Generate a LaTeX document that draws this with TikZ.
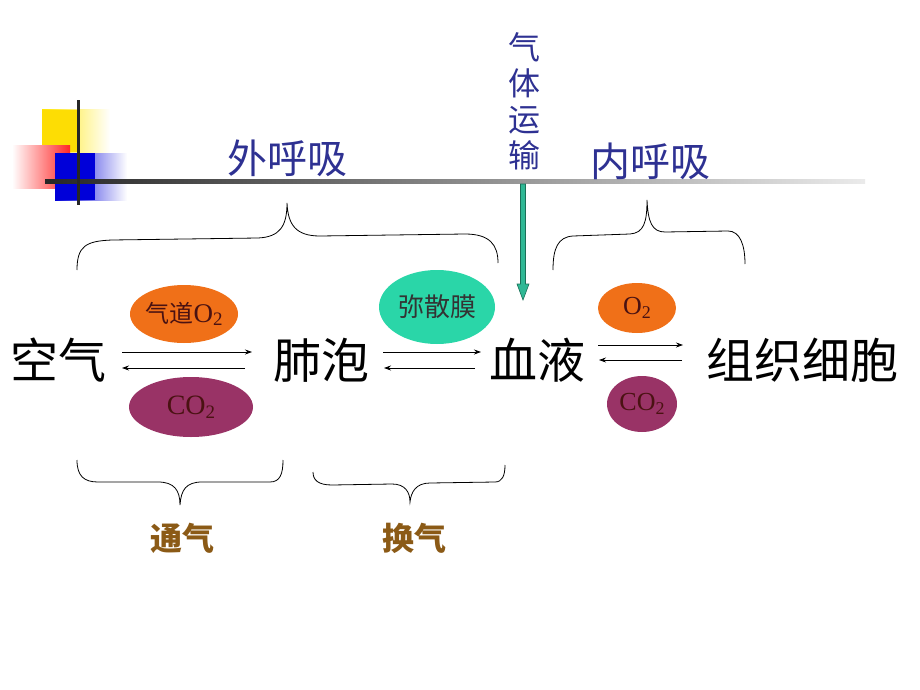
\documentclass[tikz,border=0pt]{standalone}
\usepackage{fontspec}
\setmainfont{Liberation Serif}
\newfontfamily\cjk{Noto Sans CJK SC}
\usetikzlibrary{arrows.meta,shapes.geometric}
\definecolor{navy}{HTML}{2E3192}
\definecolor{brownlab}{HTML}{8B5A16}
\definecolor{orng}{HTML}{F07018}
\definecolor{purp}{HTML}{993366}
\definecolor{teal2}{HTML}{2AD6A8}
\definecolor{arrowg}{HTML}{2FB895}
\definecolor{arrowd}{HTML}{1A7058}
\definecolor{inktext}{HTML}{4A1212}
\tikzset{
  maintext/.style={font=\cjk\fontsize{48}{50}\selectfont, inner sep=0pt, anchor=center},
  headtext/.style={font=\cjk\fontsize{40}{42}\selectfont, text=navy, inner sep=0pt},
  labtext/.style={font=\cjk\bfseries\fontsize{32}{34}\selectfont, text=brownlab, inner sep=0pt},
  bubble/.style={ellipse, draw=none},
  flow/.style={line width=0.8pt, -{Stealth[length=7pt,width=5pt]}},
  brace/.style={line width=0.8pt, black},
  bubtext/.style={text=inktext, inner sep=0pt}
}
\begin{document}
\begin{tikzpicture}[x=1pt,y=-1pt]
\useasboundingbox (0,0) rectangle (920,690);
% decorative block
\shade[left color=yellow!80!orange, right color=white] (42,110) rectangle (110,152);
\fill[yellow!80!orange] (42,110) rectangle (80,152);
\shade[left color=white, right color=red!85] (12,145) rectangle (70,188);
\shade[left color=blue!85!black, right color=white] (55,153) rectangle (127,200);
\fill[blue!85!black] (55,153) rectangle (95,200);
\shade[left color=black!85, right color=black!8] (45,179) rectangle (865,183);
\fill[black!85] (76.5,100) rectangle (79.5,205);
% headings
\node[headtext] (outer) at (287,158) {外呼吸};
\node[headtext] (inner) at (650,161) {内呼吸};
\node[font=\cjk\fontsize{32}{36}\selectfont, text=navy, inner sep=0pt, align=center] (trans) at (524,101) {气\\体\\运\\输};
% green arrow
\coordinate (gtop) at (523,184);
\coordinate (gtip) at (523,300);
\filldraw[fill=arrowg, draw=arrowd, line width=0.6pt]
  ([xshift=-2.5]gtop) -- ([xshift=-2.5,yshift=16]gtip) -- ([xshift=-6,yshift=16]gtip) -- (gtip)
  -- ([xshift=6,yshift=16]gtip) -- ([xshift=2.5,yshift=16]gtip) -- ([xshift=2.5]gtop) -- cycle;
% top braces
\draw[brace] (77,270) .. controls (77,246) and (86,241) .. (112,240) -- (258,238)
  .. controls (280,237) and (287,226) .. (287,203)
  .. controls (288,225) and (296,236) .. (320,236) -- (465,234)
  .. controls (490,234) and (498,245) .. (498,263);
\draw[brace] (553,270) .. controls (553,248) and (558,237) .. (573,236) -- (630,234)
  .. controls (644,233) and (647,222) .. (647,200)
  .. controls (648,222) and (652,232) .. (665,232) -- (728,231)
  .. controls (740,231) and (745,245) .. (745,264);
% bottom braces
\draw[brace] (77,460) .. controls (77,476) and (84,482) .. (98,482) -- (158,482)
  .. controls (174,482) and (180,490) .. (180,505)
  .. controls (181,490) and (186,482) .. (202,482) -- (270,482)
  .. controls (280,482) and (283,474) .. (283,460);
\draw[brace] (313,472) .. controls (313,480) and (318,485) .. (332,485) -- (392,484)
  .. controls (405,484) and (410,492) .. (410,502)
  .. controls (411,492) and (416,483) .. (430,483) -- (495,482)
  .. controls (502,482) and (505,476) .. (505,465);
\node[labtext] (tongqi) at (182,538) {通气};
\node[labtext] (huanqi) at (414,538) {换气};
% bubbles
\node[bubble, fill=orng, minimum width=108pt, minimum height=58pt] (b1) at (184,314) {};
\node[bubtext] at (b1) {{\cjk\fontsize{24}{26}\selectfont 气道}{\fontsize{27}{28}\selectfont O\raisebox{-0.3ex}{\fontsize{19}{20}\selectfont 2}}};
\node[bubble, fill=purp, minimum width=124pt, minimum height=60pt] (b2) at (191,407) {};
\node[bubtext] at (b2) {\fontsize{28}{29}\selectfont CO\raisebox{-0.3ex}{\fontsize{19}{20}\selectfont 2}};
\node[bubble, fill=teal2, minimum width=116pt, minimum height=74pt] (b3) at (437,307) {};
\node[bubtext, text=black!80] at (b3) {\cjk\fontsize{26}{28}\selectfont 弥散膜};
\node[bubble, fill=orng, minimum width=78pt, minimum height=50pt] (b4) at (637,308) {};
\node[bubtext] at (b4) {\fontsize{26}{27}\selectfont O\raisebox{-0.3ex}{\fontsize{18}{19}\selectfont 2}};
\node[bubble, fill=purp, minimum width=70pt, minimum height=56pt] (b5) at (642,404) {};
\node[bubtext] at (b5) {\fontsize{26}{27}\selectfont CO\raisebox{-0.3ex}{\fontsize{18}{19}\selectfont 2}};
% main row
\node[maintext] (air) at (58,360) {空气};
\node[maintext] (alv) at (321,360) {肺泡};
\node[maintext] (blood) at (537,360) {血液};
\node[maintext] (tissue) at (802,360) {组织细胞};
% arrows
\draw[flow] (122,352) -- (252,352);
\draw[flow] (245,368) -- (122,368);
\draw[flow] (383,352) -- (481,352);
\draw[flow] (475,368) -- (384,368);
\draw[flow] (598,345) -- (683,345);
\draw[flow] (682,360) -- (599,360);
\end{tikzpicture}
\end{document}
